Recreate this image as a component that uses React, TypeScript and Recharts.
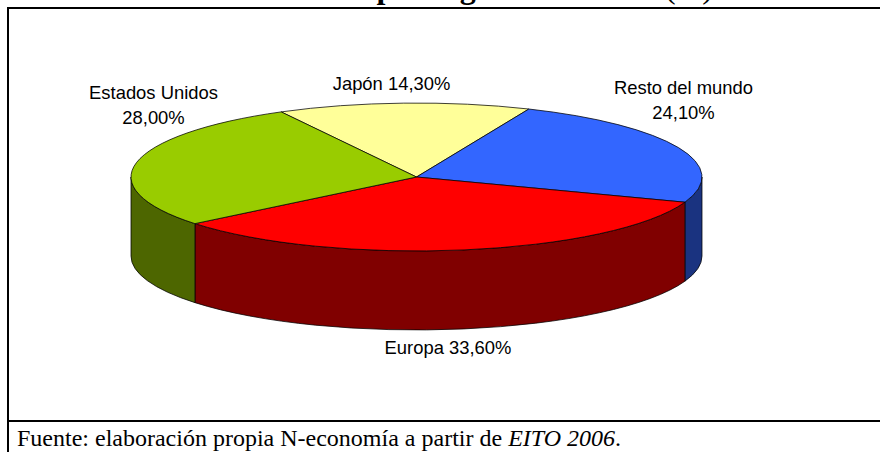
import { PieChart, Pie, Cell } from 'recharts';

const categories = ['Japón', 'Resto del mundo', 'Europa', 'Estados Unidos'];
const shares = [14.3, 24.1, 33.6, 28.0];
const topColors = ['#FFFF99', '#3366FF', '#FF0000', '#99CC00'];
const wallColors = ['#808050', '#1A3380', '#800000', '#4D6600'];

const rows = categories.map((name, i) => ({ name, value: shares[i] }));

const TITLE = 'Mercado TIC por regiones en 2005';
const TITLE_UNIT = ' (%)';
const TILT = 0.259;
const DEPTH = 79;
const RAD = Math.PI / 180;

// where each label sits relative to the pie centre (first baseline)
const labelSpots: Record<string, { dx: number; dy: number; wrap: boolean }> = {
  'Japón': { dx: -25, dy: -87, wrap: false },
  'Resto del mundo': { dx: 267, dy: -83, wrap: true },
  'Europa': { dx: 31.5, dy: 177, wrap: false },
  'Estados Unidos': { dx: -263, dy: -78, wrap: true },
};

const fmt = (v: number) => `${v.toFixed(2).replace('.', ',')}%`;

function Slice3D(props: any) {
  const { cx, cy, outerRadius, startAngle, endAngle, index } = props;
  const rx = outerRadius;
  const ry = outerRadius * TILT;
  const at = (deg: number, drop = 0) =>
    `${cx + rx * Math.cos(deg * RAD)} ${cy - ry * Math.sin(deg * RAD) + drop}`;

  const top = `M ${cx} ${cy} L ${at(startAngle)} A ${rx} ${ry} 0 ${
    startAngle - endAngle > 180 ? 1 : 0
  } 1 ${at(endAngle)} Z`;

  // side wall only shows on the front half of the ellipse
  const hi = Math.min(startAngle, 0);
  const lo = Math.max(endAngle, -180);
  const wall =
    hi > lo
      ? `M ${at(hi)} A ${rx} ${ry} 0 0 1 ${at(lo)} L ${at(lo, DEPTH)} A ${rx} ${ry} 0 0 0 ${at(hi, DEPTH)} Z`
      : null;

  return (
    <g>
      {wall && <path d={wall} fill={wallColors[index]} stroke="#000" strokeWidth={0.75} />}
      <path d={top} fill={topColors[index]} stroke="#000" strokeWidth={0.75} strokeLinejoin="round" />
    </g>
  );
}

function SliceLabel(props: any) {
  const { cx, cy, name, value } = props;
  const spot = labelSpots[name];
  const x = cx + spot.dx;
  const y = cy + spot.dy;
  return (
    <text
      x={x}
      y={y}
      textAnchor="middle"
      fontFamily="'Liberation Sans', Arial, sans-serif"
      fontSize={18.4}
      fill="#000"
    >
      {spot.wrap ? (
        <>
          <tspan x={x}>{name}</tspan>
          <tspan x={x} dy={24.5}>{fmt(value)}</tspan>
        </>
      ) : (
        `${name} ${fmt(value)}`
      )}
    </text>
  );
}

export default function App() {
  return (
    <div
      style={{
        position: 'absolute',
        left: 0,
        top: 0,
        width: 880,
        height: 452,
        overflow: 'hidden',
        background: '#fff',
      }}
    >
      <div
        style={{
          position: 'absolute',
          right: 167,
          top: -30,
          fontFamily: "'Liberation Serif', 'Times New Roman', serif",
          fontSize: 32,
          lineHeight: '34px',
          whiteSpace: 'pre',
        }}
      >
        <b>{TITLE}</b>
        {TITLE_UNIT}
      </div>

      <div style={{ position: 'absolute', left: 7, top: 7, width: 873, height: 2, background: '#000' }} />
      <div style={{ position: 'absolute', left: 7, top: 420, width: 873, height: 2, background: '#000' }} />
      <div style={{ position: 'absolute', left: 7, top: 7, width: 2, height: 445, background: '#000' }} />

      <div style={{ position: 'absolute', left: 0, top: 0 }}>
        <PieChart width={880} height={452} margin={{ top: 0, right: 0, bottom: 0, left: 0 }}>
          <Pie
            data={rows}
            dataKey="value"
            nameKey="name"
            cx={416.5}
            cy={177}
            innerRadius={0}
            outerRadius={285.5}
            startAngle={118.3}
            endAngle={-241.7}
            paddingAngle={0}
            shape={Slice3D}
            label={SliceLabel}
            labelLine={false}
            isAnimationActive={false}
          >
            {rows.map((r, i) => (
              <Cell key={r.name} fill={topColors[i]} />
            ))}
          </Pie>
        </PieChart>
      </div>

      <div
        style={{
          position: 'absolute',
          left: 17,
          top: 425,
          fontFamily: "'Liberation Serif', 'Times New Roman', serif",
          fontSize: 24,
          lineHeight: '27px',
          whiteSpace: 'nowrap',
          color: '#000',
        }}
      >
        Fuente: elaboración propia N-economía a partir de <i>EITO 2006</i>.
      </div>
    </div>
  );
}
